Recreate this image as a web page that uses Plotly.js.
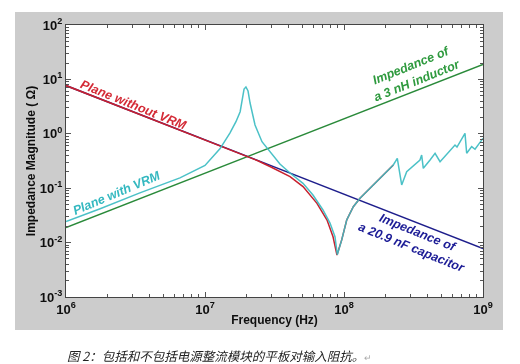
<!DOCTYPE html>
<html><head><meta charset="utf-8">
<script src="https://cdn.plot.ly/plotly-3.0.1.min.js"></script>
<style>
html,body{margin:0;padding:0;background:#fff}
#wrap{position:relative;width:520px;height:364px;background:#fff;overflow:hidden}
#chart{position:absolute;left:0;top:0;width:520px;height:364px}
.frame{position:absolute;background:#cccccc;mix-blend-mode:multiply;z-index:5;pointer-events:none}
#caption{position:absolute;left:67px;top:348px;height:16px;line-height:16px;white-space:nowrap;z-index:6;
  font-family:"Noto Sans CJK SC",sans-serif;font-size:12.5px;font-style:italic;color:#222}
#caption span{color:#aaa;font-size:9px;font-style:normal}
</style>
</head><body><div id="wrap">
<div id="chart"></div>
<div class="frame" style="left:15px;top:12px;width:488px;height:13px"></div>
<div class="frame" style="left:15px;top:297px;width:488px;height:33px"></div>
<div class="frame" style="left:15px;top:25px;width:51px;height:272px"></div>
<div class="frame" style="left:483px;top:25px;width:20px;height:272px"></div>
<div id="caption"></div>
</div>
<script>
// ---- data ----
const freqInductor = [1e6, 1e9];
const zInductor = [0.0189, 18.9];

const freqCapacitor = [1e6, 1e9];
const zCapacitor = [7.7, 0.0078];

const freqNoVRM = [1e6, 1e7, 1.79e7, 2.4e7, 2.93e7, 3.46e7, 4.09e7, 5.07e7, 6.39e7, 7.55e7, 8.34e7, 8.9e7,
  9.63e7, 1.046e8, 1.167e8, 1.303e8, 1.538e8, 1.917e8, 2.263e8];
const zNoVRM = [7.7, 0.77, 0.43, 0.32, 0.25, 0.201, 0.163, 0.107, 0.0527, 0.026, 0.0128, 0.0059,
  0.0112, 0.026, 0.0457, 0.0652, 0.0995, 0.175, 0.267];

const freqWithVRM = [1e6, 1.76e6, 3.4e6, 6.6e6, 1e7, 1.28e7, 1.51e7, 1.67e7, 1.79e7, 1.85e7, 1.91e7, 1.97e7,
  2.04e7, 2.11e7, 2.22e7, 2.29e7, 2.57e7, 2.93e7, 3.46e7, 4.09e7, 5.07e7, 5.98e7, 7.06e7, 7.93e7, 8.61e7, 8.95e7,
  9.63e7, 1.046e8, 1.167e8, 1.303e8, 1.538e8, 1.917e8, 2.263e8, 2.418e8, 2.6e8, 2.825e8, 3.52e8, 3.62e8, 3.72e8,
  4.16e8, 4.52e8, 4.91e8, 5.79e8, 6.29e8, 6.5e8, 7.42e8, 7.63e8, 8.29e8, 8.76e8, 9.51e8, 1e9];
const zWithVRM = [0.0245, 0.042, 0.082, 0.155, 0.262, 0.53, 1.03, 1.67, 2.55, 4.18, 6.66, 7.25,
  6.12, 3.68, 2.04, 1.45, 0.716, 0.463, 0.279, 0.19, 0.123, 0.075, 0.0398, 0.0229, 0.0128, 0.006,
  0.0112, 0.026, 0.0457, 0.0652, 0.0995, 0.175, 0.267, 0.355, 0.115, 0.201, 0.33, 0.407, 0.232,
  0.33, 0.438, 0.307, 0.504, 0.622, 0.571, 1.02, 0.438, 0.58, 0.519, 0.716, 0.826];

const xTickVals = [1e6, 1e7, 1e8, 1e9];
const xTickText = ['10<sup>6</sup>', '10<sup>7</sup>', '10<sup>8</sup>', '10<sup>9</sup>'];
const yTickVals = [1e-3, 1e-2, 1e-1, 1e0, 1e1, 1e2];
const yTickText = ['10<sup>-3</sup>', '10<sup>-2</sup>', '10<sup>-1</sup>', '10<sup>0</sup>', '10<sup>1</sup>', '10<sup>2</sup>'];

const xTitle = 'Frequency (Hz)';
const yTitle = 'Impedance Magnitude ( \u03A9)';
const caption = '图 2：包括和不包括电源整流模块的平板对输入阻抗。';

// caption below the grey figure panel (real text)
document.getElementById('caption').innerHTML = caption + '<span>\u21B5</span>';

// minor tick positions (2..9 within each decade)
function minorTicks(lo, hi) {
  const out = [];
  for (let p = lo; p < hi; p++) for (let m = 2; m <= 9; m++) out.push(m * Math.pow(10, p));
  return out;
}

const AX = '#555';
const FAM = 'Arial, "Liberation Sans", sans-serif';
const tickFont = {family: FAM, size: 13, color: '#111', weight: 'bold'};
const lblFont = (c) => ({family: FAM, size: 12.5, color: c});
const bi = (s) => '<b><i>' + s + '</i></b>';

const traces = [
  {x: freqCapacitor, y: zCapacitor, mode: 'lines', line: {color: '#1e1e8c', width: 1.5}, hoverinfo: 'skip'},
  {x: freqInductor, y: zInductor, mode: 'lines', line: {color: '#2a8a3a', width: 1.5}, hoverinfo: 'skip'},
  {x: freqNoVRM, y: zNoVRM, mode: 'lines', line: {color: '#c8202e', width: 1.5}, hoverinfo: 'skip'},
  {x: freqWithVRM, y: zWithVRM, mode: 'lines', line: {color: '#3cbcc2', width: 1.5}, opacity: 0.92, hoverinfo: 'skip'}
];

const layout = {
  width: 520, height: 364,
  margin: {l: 66, r: 37, t: 25, b: 67},
  paper_bgcolor: '#ffffff', plot_bgcolor: '#ffffff',
  showlegend: false,
  xaxis: {
    type: 'log', range: [6, 9], tickmode: 'array', tickvals: xTickVals, ticktext: xTickText,
    ticks: 'inside', ticklen: 5, tickcolor: AX, showline: true, linecolor: AX, linewidth: 1, mirror: 'ticks',
    showgrid: false, zeroline: false, tickfont: tickFont,
    minor: {tickmode: 'array', tickvals: minorTicks(6, 9), ticks: 'inside', ticklen: 3, tickcolor: AX, showgrid: false},
    title: {text: xTitle, standoff: 0, font: {family: FAM, size: 12, color: '#111', weight: 'bold'}}
  },
  yaxis: {
    type: 'log', range: [-3, 2], tickmode: 'array', tickvals: yTickVals, ticktext: yTickText,
    ticks: 'inside', ticklen: 5, tickcolor: AX, showline: true, linecolor: AX, linewidth: 1, mirror: 'ticks',
    showgrid: false, zeroline: false, tickfont: tickFont,
    minor: {tickmode: 'array', tickvals: minorTicks(-3, 2), ticks: 'inside', ticklen: 3, tickcolor: AX, showgrid: false},
    title: {text: yTitle, standoff: 1, font: {family: FAM, size: 12, color: '#111', weight: 'bold'}}
  },
  annotations: [
    {xref: 'paper', yref: 'paper', x: 0.1619, y: 0.706, xanchor: 'center', yanchor: 'middle',
     text: bi('Plane without VRM'), showarrow: false, textangle: 22, font: lblFont('#d42a36')},
    {xref: 'paper', yref: 'paper', x: 0.1223, y: 0.381, xanchor: 'center', yanchor: 'middle',
     text: bi('Plane with VRM'), showarrow: false, textangle: -23, font: lblFont('#34b8c0')},
    {xref: 'paper', yref: 'paper', x: 0.8345, y: 0.8235, xanchor: 'center', yanchor: 'middle',
     text: bi('Impedance of') + '<br>' + bi('a 3 nH inductor'), showarrow: false, textangle: -22, font: lblFont('#2e9a3e')},
    {xref: 'paper', yref: 'paper', x: 0.837, y: 0.2096, xanchor: 'center', yanchor: 'middle',
     text: bi('Impedance of') + '<br>' + bi('a 20.9 nF capacitor'), showarrow: false, textangle: 22, font: lblFont('#1c1c96')}
  ]
};

Plotly.newPlot('chart', traces, layout, {staticPlot: true, displayModeBar: false});
</script>
</body></html>
